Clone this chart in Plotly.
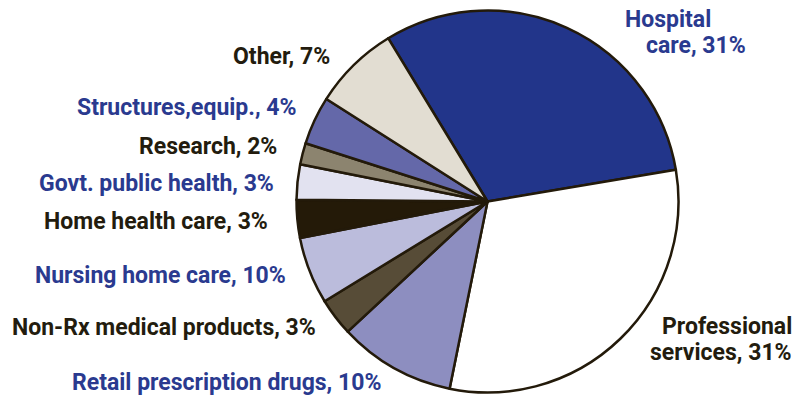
import plotly.graph_objects as go

categories = ["Hospital care", "Professional services", "Retail prescription drugs",
              "Non-Rx medical products", "Nursing home care", "Home health care",
              "Govt. public health", "Research", "Structures,equip.", "Other"]
values = [31.1, 30.9, 9.9, 3.2, 5.7, 3.2, 3.0, 1.8, 4.1, 7.3]
label_pct = ["31%", "31%", "10%", "3%", "10%", "3%", "3%", "2%", "4%", "7%"]
colors = ["#22358A", "#FFFFFF", "#8D8EC0", "#574C37", "#BBBCDC", "#241A08",
          "#E2E2F0", "#8C846F", "#6468A9", "#E2DDD2"]
text_colors = ["#2A3A8F", "#231C0E", "#2A3A8F", "#231C0E", "#2A3A8F", "#231C0E",
               "#2A3A8F", "#231C0E", "#2A3A8F", "#231C0E"]

W, H = 800, 396
cx, cy, r = 487.5, 201.5, 191

fig = go.Figure(go.Pie(
    labels=categories, values=values, sort=False, direction="clockwise",
    rotation=-31.3, textinfo="none", hoverinfo="label+percent",
    marker=dict(colors=colors, line=dict(color="#231A0A", width=2.5)),
    domain=dict(x=[(cx - r) / W, (cx + r) / W], y=[(H - cy - r) / H, (H - cy + r) / H]),
    showlegend=False,
))

# label layout: (line text, anchor x, center y, xanchor) per category
layout_pos = {
    "Hospital care": [("Hospital", 623, 20, "left"), ("care, {p}", 644, 46, "left")],
    "Professional services": [("Professional", 794, 326, "right"), ("services, {p}", 794, 352, "right")],
    "Retail prescription drugs": [("Retail prescription drugs, {p}", 383, 382, "right")],
    "Non-Rx medical products": [("Non-Rx medical products, {p}", 318, 327, "right")],
    "Nursing home care": [("Nursing home care, {p}", 288, 275, "right")],
    "Home health care": [("Home health care, {p}", 270, 222, "right")],
    "Govt. public health": [("Govt. public health, {p}", 276, 183, "right")],
    "Research": [("Research, {p}", 279, 146, "right")],
    "Structures,equip.": [("Structures,equip., {p}", 299, 107, "right")],
    "Other": [("Other, {p}", 332, 57, "right")],
}

annotations = []
for cat, pct, tc in zip(categories, label_pct, text_colors):
    for txt, x, y, xa in layout_pos[cat]:
        annotations.append(dict(
            text=txt.format(p=pct), x=x / W, y=1 - y / H, xref="paper", yref="paper",
            xanchor=xa, yanchor="middle", showarrow=False,
            font=dict(family="Roboto", size=23, color=tc, weight="bold"),
        ))

fig.update_layout(
    width=W, height=H, margin=dict(l=0, r=0, t=0, b=0),
    paper_bgcolor="white", plot_bgcolor="white", annotations=annotations,
)
fig.write_html("out.html")
